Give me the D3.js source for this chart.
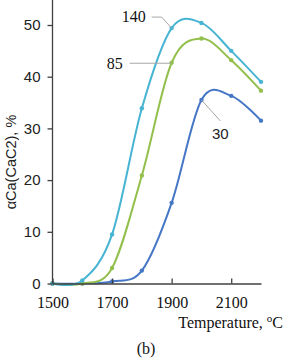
<!DOCTYPE html>
<html><head><meta charset="utf-8">
<script src="https://cdn.jsdelivr.net/npm/d3@7"></script>
<style>body{margin:0;background:#fff}svg{display:block}</style>
</head><body>
<svg id="c" width="289" height="360"></svg>
<script>
const temps = [1500,1600,1700,1800,1900,2000,2100,2200];
const s140 = [0,0.6,9.5,33.9,49.4,50.4,45.0,39.0];
const s85  = [0,0,3.0,20.9,42.7,47.4,43.2,37.3];
const s30  = [0,0,0.4,2.5,15.6,35.5,36.3,31.5];
const seriesNames = ["30","85","140"];
const xTicks = [1500,1700,1900,2100];
const yTicks = [0,10,20,30,40,50];

const svg = d3.select("#c");
const x = d3.scaleLinear().domain([1500,2200]).range([52.5,261]);
const y = d3.scaleLinear().domain([0,50]).range([283.5,25]);
const serif = "'Liberation Serif','Times New Roman',serif";
const sans = "'Liberation Sans',Arial,sans-serif";
const axisCol = "#404040";

const series = [
  {name:seriesNames[0], vals:s30, color:"#4677c6"},
  {name:seriesNames[1], vals:s85, color:"#93bf4c"},
  {name:seriesNames[2], vals:s140, color:"#46b4d2"}
];

const line = d3.line().x(d=>x(d[0])).y(d=>y(d[1])).curve(d3.curveCatmullRom.alpha(0));
series.forEach(s=>{
  const pts = temps.map((t,i)=>[t,s.vals[i]]);
  svg.append("path").attr("d",line(pts)).attr("fill","none")
    .attr("stroke",s.color).attr("stroke-width",2);
  svg.append("g").selectAll("circle").data(pts).join("circle")
    .attr("cx",d=>x(d[0])).attr("cy",d=>y(d[1])).attr("r",2.2).attr("fill",s.color);
});

// axes
const yAxis = svg.append("g").attr("transform","translate(52.5,0)")
  .call(d3.axisLeft(y).tickValues(yTicks).tickSize(5).tickPadding(7));
yAxis.select(".domain").attr("d","M0,283.5V0");
yAxis.selectAll("line,path").attr("stroke",axisCol).attr("stroke-width",1.3);
yAxis.selectAll("text").attr("font-family",sans).attr("font-size",15).attr("fill","#222");

const xAxis = svg.append("g").attr("transform","translate(0,283.5)")
  .call(d3.axisBottom(x).tickValues(xTicks).tickFormat(d3.format("d")).tickSize(-5).tickPadding(13).tickSizeOuter(0));
xAxis.selectAll("line,path").attr("stroke",axisCol).attr("stroke-width",1.3);
xAxis.selectAll("text").attr("font-family",serif).attr("font-size",16).attr("fill","#111");

// leader labels
const lead = "#a6a6a6";
const p140 = [x(1900), y(s140[4])];
svg.append("path").attr("d",`M${p140[0]-20},${p140[1]-11}H${p140[0]-10}L${p140[0]},${p140[1]}`)
  .attr("fill","none").attr("stroke",lead).attr("stroke-width",1);
svg.append("text").attr("x",p140[0]-50).attr("y",p140[1]-6).attr("font-family",serif)
  .attr("font-size",16).attr("fill","#111").text("140");

const p85 = [x(1900), y(s85[4])];
svg.append("path").attr("d",`M${p85[0]-42},${p85[1]+0.5}H${p85[0]}`)
  .attr("fill","none").attr("stroke",lead).attr("stroke-width",1);
svg.append("text").attr("x",p85[0]-65).attr("y",p85[1]+6).attr("font-family",serif)
  .attr("font-size",16).attr("fill","#111").text("85");

const p30 = [x(2000), y(s30[5])];
svg.append("path").attr("d",`M${p30[0]},${p30[1]}L${p30[0]+19},${p30[1]+21}`)
  .attr("fill","none").attr("stroke",lead).attr("stroke-width",1);
svg.append("text").attr("x",p30[0]+10.5).attr("y",p30[1]+39).attr("font-family",sans)
  .attr("font-size",15).attr("fill","#222").text("30");

// titles
svg.append("text").attr("transform","translate(16,162) rotate(-90)").attr("text-anchor","middle")
  .attr("font-family",sans).attr("font-size",14.5).attr("fill","#222").text("αCa(CaC2), %");

const xt = svg.append("text").attr("x",283).attr("y",328).attr("text-anchor","end")
  .attr("font-family",serif).attr("font-size",16).attr("fill","#111");
xt.append("tspan").text("Temperature, ");
xt.append("tspan").attr("dy",-6).attr("font-size",11).text("o");
xt.append("tspan").attr("dy",6).text("C");

svg.append("text").attr("x",146).attr("y",354).attr("text-anchor","middle")
  .attr("font-family",serif).attr("font-size",16).attr("fill","#111").text("(b)");
</script>
</body></html>
